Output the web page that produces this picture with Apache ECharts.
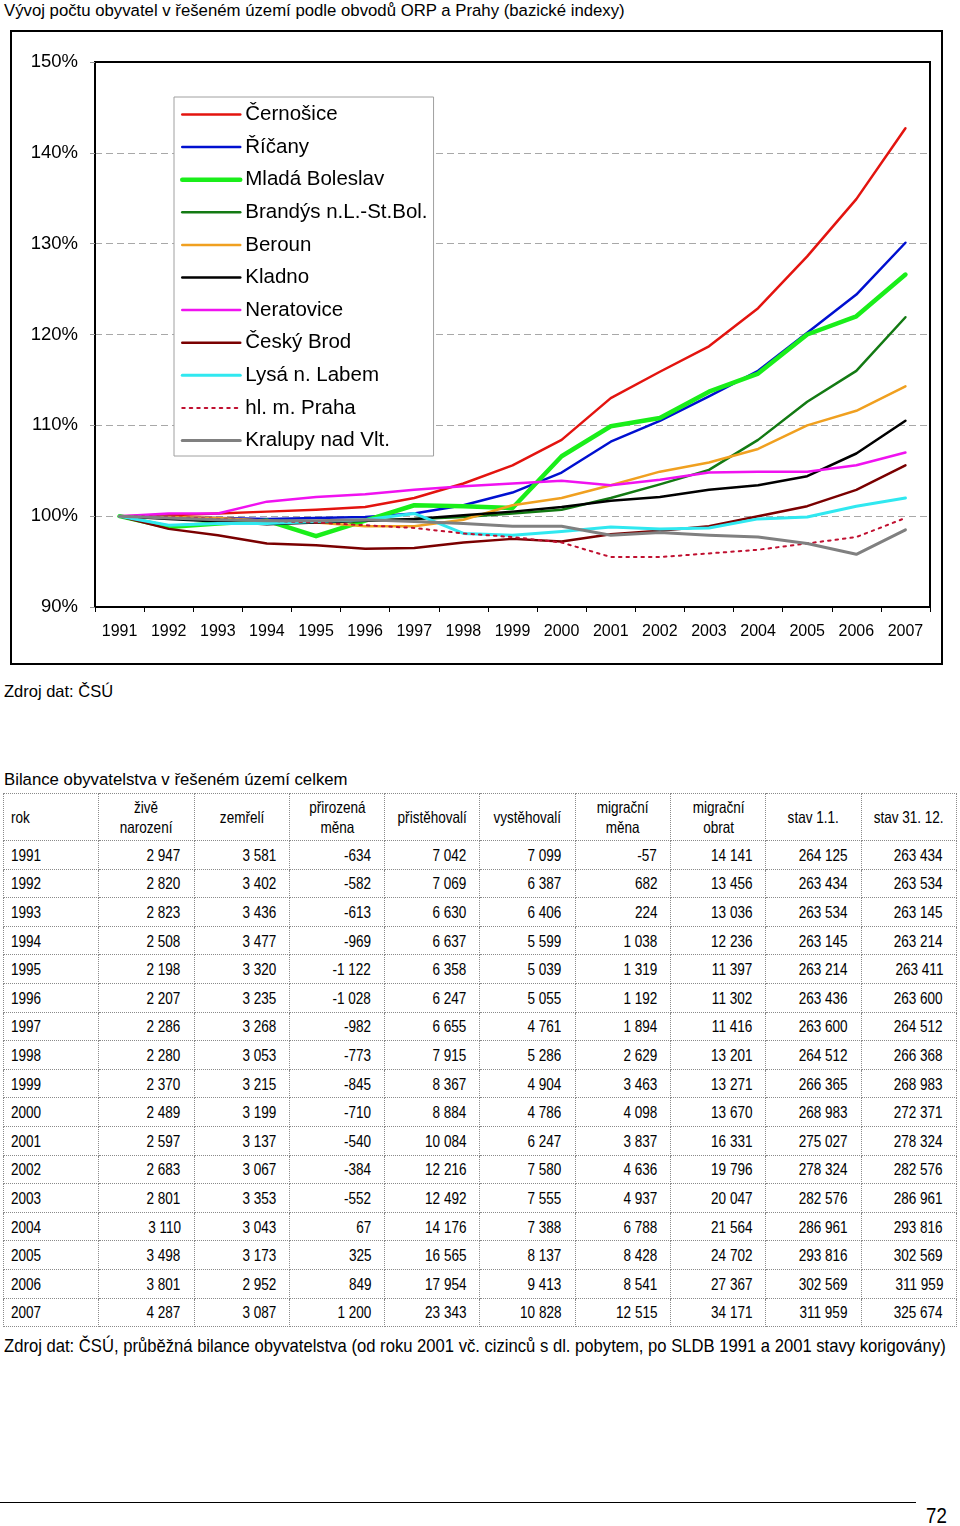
<!DOCTYPE html>
<html><head><meta charset="utf-8">
<script src="https://cdn.jsdelivr.net/npm/echarts@6/dist/echarts.min.js"></script>
<style>
body{margin:0;background:#fff;}
#page{position:relative;width:960px;height:1526px;background:#fff;font-family:'Liberation Sans',Arial,sans-serif;color:#000;overflow:hidden;}
.t{position:absolute;white-space:nowrap;line-height:1;}
.nar{transform-origin:left center;}
#chart{position:absolute;left:0;top:0;width:960px;height:680px;}
#tbl{position:absolute;left:3px;top:793px;width:954px;border-collapse:collapse;table-layout:fixed;font-family:'Liberation Sans',Arial,sans-serif;}
#tbl td,#tbl th{border:1px dotted #8a8a8a;padding:0;box-sizing:border-box;white-space:nowrap;overflow:visible;}
#tbl th{font-weight:normal;font-size:16.5px;line-height:20px;height:47px;text-align:center;}
#tbl th span{display:inline-block;transform:scaleX(0.82);transform-origin:center center;}
#tbl th.l{text-align:left;padding-left:7px;}
#tbl th.l span{transform-origin:left center;}
#tbl td{font-size:16.5px;height:28.6px;text-align:right;line-height:18px;padding-right:13px;}
#tbl td span{display:inline-block;transform:scaleX(0.82);transform-origin:right center;}
#tbl td.l{text-align:left;padding-left:7px;padding-right:0;}
#tbl td.l span{transform-origin:left center;}
</style></head>
<body><div id="page">
<div class="t" style="left:4px;top:3px;font-size:16.75px;">Vývoj počtu obyvatel v řešeném území podle obvodů ORP a Prahy (bazické indexy)</div>
<div id="chart"></div>
<div class="t" style="left:4px;top:683px;font-size:16.5px;">Zdroj dat: ČSÚ</div>
<div class="t" style="left:4px;top:772px;font-size:16.75px;">Bilance obyvatelstva v řešeném území celkem</div>
<table id="tbl"></table>
<div class="t nar" style="left:4px;top:1336px;font-size:19px;transform:scaleX(0.875);">Zdroj dat: ČSÚ, průběžná bilance obyvatelstva (od roku 2001 vč. cizinců s dl. pobytem, po SLDB 1991 a 2001 stavy korigovány)</div>
<div style="position:absolute;left:0;top:1502px;width:916px;height:0;border-top:1px solid #000;"></div>
<div class="t nar" style="left:926px;top:1505px;font-size:22px;transform:scaleX(0.85);">72</div>
</div>
<script>
// ---- chart data (bazické indexy, %) ----
const years = ['1991','1992','1993','1994','1995','1996','1997','1998','1999','2000','2001','2002','2003','2004','2005','2006','2007'];
const cernosice  = [100,100.1,100.3,100.5,100.7,101.0,102.0,103.6,105.6,108.4,113.0,115.9,118.7,122.9,128.6,134.9,142.7];
const ricany     = [100,99.9,99.8,99.7,99.8,99.9,100.3,101.2,102.6,104.8,108.2,110.5,113.2,116.0,120.2,124.4,130.1];
const mladaBol   = [100,98.8,99.2,99.5,97.8,99.5,101.2,101.1,100.9,106.6,109.9,110.8,113.7,115.7,120.0,122.0,126.6];
const brandys    = [100,99.8,99.7,99.5,99.4,99.5,99.7,99.9,100.3,100.7,102.0,103.5,105.1,108.4,112.6,116.0,121.9];
const beroun     = [100,99.9,99.8,99.5,99.3,98.9,98.9,99.6,101.2,102.0,103.4,104.9,105.9,107.4,110.0,111.6,114.3];
const kladno     = [100,99.7,99.4,99.1,99.3,99.5,99.7,100.1,100.5,101.0,101.7,102.1,102.9,103.4,104.4,106.9,110.5];
const neratovice = [100,100.3,100.3,101.6,102.1,102.4,102.9,103.3,103.6,103.9,103.4,104.0,104.8,104.9,104.9,105.6,107.0];
const ceskyBrod  = [100,98.6,97.9,97.0,96.8,96.4,96.5,97.1,97.5,97.2,98.0,98.4,98.9,100.0,101.1,102.9,105.6];
const lysa       = [100,99.0,99.2,99.2,99.4,99.6,100.3,98.1,97.9,98.3,98.8,98.6,98.7,99.7,99.9,101.1,102.0];
const praha      = [100,99.9,99.7,99.5,99.3,99.0,98.7,98.1,97.7,97.1,95.5,95.5,95.9,96.3,97.0,97.7,99.8];
const kralupy    = [100,99.8,99.6,99.5,99.5,99.6,99.4,99.2,98.9,98.9,97.9,98.2,97.9,97.7,97.0,95.8,98.5];
const yTicks = [90,100,110,120,130,140,150];

// ---- table data ----
const tblHeaders = ['rok','živě<br>narození','zemřelí','přirozená<br>měna','přistěhovalí','vystěhovalí','migrační<br>měna','migrační<br>obrat','stav 1.1.','stav 31. 12.'];
const births   = [2947,2820,2823,2508,2198,2207,2286,2280,2370,2489,2597,2683,2801,3110,3498,3801,4287];
const deaths   = [3581,3402,3436,3477,3320,3235,3268,3053,3215,3199,3137,3067,3353,3043,3173,2952,3087];
const natural  = [-634,-582,-613,-969,-1122,-1028,-982,-773,-845,-710,-540,-384,-552,67,325,849,1200];
const immig    = [7042,7069,6630,6637,6358,6247,6655,7915,8367,8884,10084,12216,12492,14176,16565,17954,23343];
const emig     = [7099,6387,6406,5599,5039,5055,4761,5286,4904,4786,6247,7580,7555,7388,8137,9413,10828];
const migNet   = [-57,682,224,1038,1319,1192,1894,2629,3463,4098,3837,4636,4937,6788,8428,8541,12515];
const migTurn  = [14141,13456,13036,12236,11397,11302,11416,13201,13271,13670,16331,19796,20047,21564,24702,27367,34171];
const popStart = [264125,263434,263534,263145,263214,263436,263600,264512,266365,268983,275027,278324,282576,286961,293816,302569,311959];
const popEnd   = [263434,263534,263145,263214,263411,263600,264512,266368,268983,272371,278324,282576,286961,293816,302569,311959,325674];

function fmt(n){const s=Math.abs(n).toString().replace(/\B(?=(\d{3})+(?!\d))/g,' ');return (n<0?'-':'')+s;}

// build table
(function(){
  const t=document.getElementById('tbl');
  let h='<tr>'+tblHeaders.map((x,i)=>'<th'+(i===0?' class="l"':'')+'><span>'+x+'</span></th>').join('')+'</tr>';
  const cols=[births,deaths,natural,immig,emig,migNet,migTurn,popStart,popEnd];
  years.forEach((y,r)=>{
    h+='<tr><td class="l"><span>'+y+'</span></td>'+cols.map(c=>'<td><span>'+fmt(c[r])+'</span></td>').join('')+'</tr>';
  });
  t.innerHTML=h;
})();

const seriesDefs = [
  {name:'Černošice', data:cernosice, color:'#e3140f', width:2.5},
  {name:'Říčany', data:ricany, color:'#0010d0', width:2.5},
  {name:'Mladá Boleslav', data:mladaBol, color:'#1aee1a', width:4.5},
  {name:'Brandýs n.L.-St.Bol.', data:brandys, color:'#137a13', width:2.5},
  {name:'Beroun', data:beroun, color:'#f0a020', width:2.5},
  {name:'Kladno', data:kladno, color:'#000000', width:2.5},
  {name:'Neratovice', data:neratovice, color:'#f012f0', width:2.5},
  {name:'Český Brod', data:ceskyBrod, color:'#7a0000', width:2.5},
  {name:'Lysá n. Labem', data:lysa, color:'#30e8f0', width:3},
  {name:'hl. m. Praha', data:praha, color:'#c01030', width:2, type:[2.5,5]},
  {name:'Kralupy nad Vlt.', data:kralupy, color:'#808080', width:3}
];

const chart = echarts.init(document.getElementById('chart'), null, {renderer:'canvas'});
chart.setOption({
  animation:false,
  textStyle:{fontFamily:"'Liberation Sans',Arial,sans-serif"},
  graphic:[{type:'rect', shape:{x:11,y:31,width:931,height:633}, style:{fill:'none',stroke:'#000',lineWidth:2}, z:0}],
  grid:{left:95, top:62, width:835, height:545, show:true, borderColor:'#000', borderWidth:2, backgroundColor:'transparent', containLabel:false},
  legend:{
    orient:'vertical', left:174, top:97,
    backgroundColor:'#fff', borderColor:'#a0a0a0', borderWidth:1,
    padding:[7,6,5,6], itemWidth:58, itemHeight:14, itemGap:11.6,
    itemStyle:{opacity:0},
    lineStyle:{width:'inherit', type:'inherit'},
    textStyle:{fontSize:20.5, color:'#000', lineHeight:20, fontFamily:"'Liberation Sans',Arial,sans-serif"},
    data:seriesDefs.map(s=>s.name)
  },
  xAxis:{
    type:'category', data:years, boundaryGap:true,
    axisLine:{show:true, lineStyle:{color:'#000', width:2}},
    axisTick:{show:true, length:5, lineStyle:{color:'#000'}},
    axisLabel:{fontSize:16, color:'#000', margin:17, interval:0},
    splitLine:{show:false}
  },
  yAxis:{
    type:'value', min:yTicks[0], max:yTicks[yTicks.length-1], interval:10,
    axisLine:{show:true, lineStyle:{color:'#000', width:2}},
    axisTick:{show:true, length:5, lineStyle:{color:'#999'}},
    axisLabel:{fontSize:18.5, color:'#000', margin:17, formatter:'{value}%'},
    splitLine:{show:true, showMaxLine:false, showMinLine:false, lineStyle:{color:'#a8a8a8', type:[7,4], width:1}}
  },
  series: seriesDefs.map(s=>({
    name:s.name, type:'line', data:s.data, symbol:'none', smooth:false,
    lineStyle:{color:s.color, width:s.width, type:s.type||'solid', cap:'round', join:'round'},
    itemStyle:{color:s.color}
  }))
});
</script>
</body></html>
